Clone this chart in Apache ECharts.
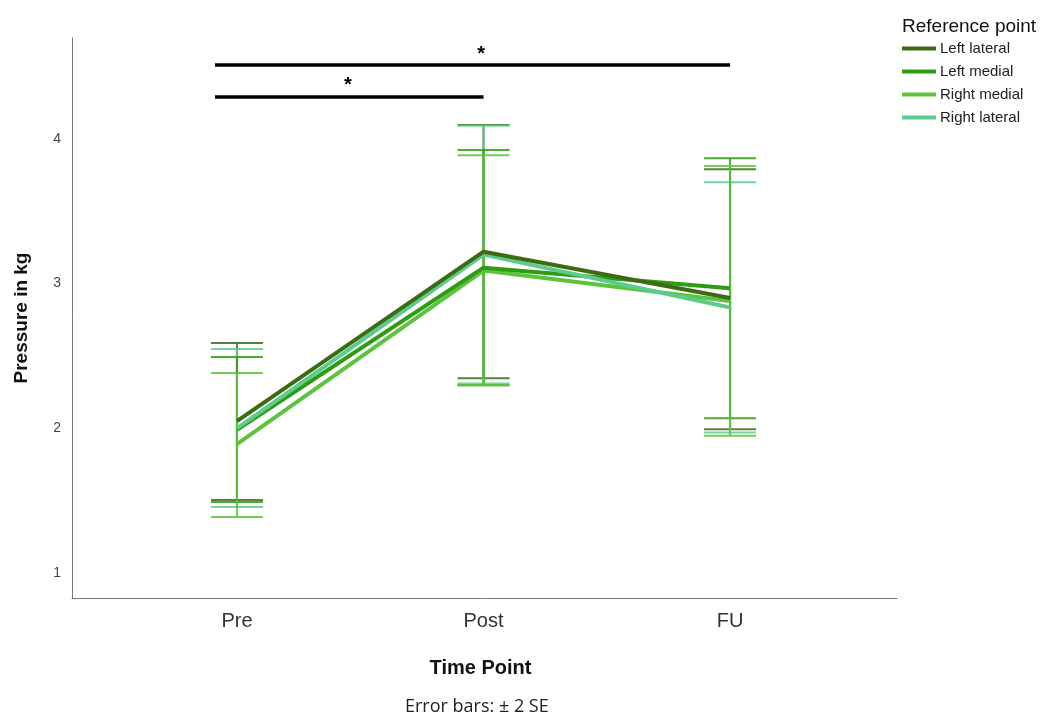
<!DOCTYPE html>
<html>
<head>
<meta charset="utf-8">
<script src="https://cdn.jsdelivr.net/npm/echarts@6/dist/echarts.min.js"></script>
<style>
html,body{margin:0;padding:0;background:#fff;}
#chart{width:1055px;height:720px;}
</style>
</head>
<body>
<div id="chart"></div>
<script>
// ---- data ----
const categories = ['Pre', 'Post', 'FU'];
const seriesNames = ['Left lateral', 'Left medial', 'Right medial', 'Right lateral'];
const seriesColors = ['#3c6b14', '#2f9b12', '#5cc43c', '#5ccb8e'];

const leftLateralMean  = [2.05, 3.22, 2.90];
const leftLateralLow   = [1.504, 2.345, 1.993];
const leftLateralHigh  = [2.590, 4.095, 3.790];

const leftMedialMean   = [1.99, 3.11, 2.967];
const leftMedialLow    = [1.491, 2.297, 2.069];
const leftMedialHigh   = [2.493, 3.923, 3.866];

const rightMedialMean  = [1.89, 3.09, 2.88];
const rightMedialLow   = [1.387, 2.297, 1.949];
const rightMedialHigh  = [2.382, 3.887, 3.813];

const rightLateralMean = [2.00, 3.20, 2.835];
const rightLateralLow  = [1.456, 2.310, 1.970];
const rightLateralHigh = [2.548, 4.090, 3.700];

const yTicks = [1, 2, 3, 4];

// significance brackets: start category, end category, height, star position
const bracketStart = [0.911, 0.911];
const bracketEnd   = [3.0, 2.0];
const bracketY     = [4.51, 4.29];
const bracketStarX = [1.99, 1.45];
const bracketLabel = ['*', '*'];

// ---- build ----
const means = [leftLateralMean, leftMedialMean, rightMedialMean, rightLateralMean];
const lows  = [leftLateralLow, leftMedialLow, rightMedialLow, rightLateralLow];
const highs = [leftLateralHigh, leftMedialHigh, rightMedialHigh, rightLateralHigh];

const series = [];
// error bars
const errOrder = [0, 3, 1, 2];
errOrder.forEach(function (si) {
  series.push({
    type: 'custom',
    name: seriesNames[si] + ' err',
    z: 3,
    silent: true,
    data: categories.map(function (c, i) { return [i + 1, lows[si][i], highs[si][i]]; }),
    renderItem: function (params, api) {
      const x = api.value(0);
      const lo = api.coord([x, api.value(1)]);
      const hi = api.coord([x, api.value(2)]);
      const hw = 26;
      const st = { stroke: seriesColors[si], lineWidth: 2, opacity: 0.85 };
      return {
        type: 'group',
        children: [
          { type: 'line', shape: { x1: lo[0], y1: lo[1], x2: hi[0], y2: hi[1] }, style: st },
          { type: 'line', shape: { x1: lo[0] - hw, y1: lo[1], x2: lo[0] + hw, y2: lo[1] }, style: st },
          { type: 'line', shape: { x1: hi[0] - hw, y1: hi[1], x2: hi[0] + hw, y2: hi[1] }, style: st }
        ]
      };
    }
  });
});
// mean lines
const lineOrder = [2, 1, 3, 0];
lineOrder.forEach(function (si) {
  series.push({
    type: 'line',
    name: seriesNames[si],
    z: 4,
    color: seriesColors[si],
    symbol: 'none',
    lineStyle: { width: 4, color: seriesColors[si] },
    data: categories.map(function (c, i) { return [i + 1, means[si][i]]; })
  });
});
// brackets
series.push({
  type: 'custom',
  name: 'brackets',
  z: 5,
  silent: true,
  data: bracketY.map(function (y, i) { return [bracketStart[i], bracketEnd[i], y, bracketStarX[i]]; }),
  renderItem: function (params, api) {
    const y = api.value(2);
    const a = api.coord([api.value(0), y]);
    const b = api.coord([api.value(1), y]);
    const s = api.coord([api.value(3), y]);
    return {
      type: 'group',
      children: [
        { type: 'line', shape: { x1: a[0], y1: a[1], x2: b[0], y2: b[1] }, style: { stroke: '#000', lineWidth: 3.5 } },
        { type: 'text', x: s[0], y: s[1] - 11, style: { text: bracketLabel[params.dataIndex], fill: '#000', font: 'bold 20px "Liberation Sans"', align: 'center', verticalAlign: 'middle' } }
      ]
    };
  }
});

const chart = echarts.init(document.getElementById('chart'), null, { renderer: 'canvas' });
chart.setOption({
  backgroundColor: '#fff',
  animation: false,
  textStyle: { fontFamily: 'Liberation Sans' },
  title: {
    text: 'Reference point',
    left: 897, top: 12,
    textStyle: { fontSize: 19, fontWeight: 'normal', color: '#111', fontFamily: 'Liberation Sans' }
  },
  legend: {
    orient: 'vertical',
    left: 897, top: 36,
    itemWidth: 34, itemHeight: 4,
    itemGap: 8,
    icon: 'rect',
    data: seriesNames,
    textStyle: { fontSize: 15, color: '#222', padding: [0, 0, 0, -1] }
  },
  grid: { left: 72, right: 158, top: 38, bottom: 122, containLabel: false },
  xAxis: {
    type: 'value',
    min: 0.331, max: 3.677,
    name: 'Time Point',
    nameLocation: 'middle',
    nameGap: 60,
    nameTextStyle: { fontSize: 20, fontWeight: 'bold', color: '#111', padding: [0, 8, 0, 0] },
    axisLine: { show: true, lineStyle: { color: '#777', width: 1 } },
    axisTick: { show: false },
    splitLine: { show: false },
    axisLabel: {
      customValues: [1, 2, 3],
      formatter: function (v) { return categories[Math.round(v) - 1] || ''; },
      fontSize: 20, color: '#333', margin: 13
    }
  },
  yAxis: {
    type: 'value',
    min: 0.827, max: 4.697,
    name: 'Pressure in kg',
    nameLocation: 'middle',
    nameGap: 41,
    nameRotate: 90,
    nameTextStyle: { fontSize: 19, fontWeight: 'bold', color: '#111' },
    axisLine: { show: true, lineStyle: { color: '#777', width: 1 } },
    axisTick: { show: false },
    splitLine: { show: false },
    axisLabel: {
      customValues: yTicks,
      fontSize: 14, color: '#444', margin: 11
    }
  },
  graphic: [{
    type: 'text', left: 405, top: 698,
    style: { text: 'Error bars: \u00b1 2 SE', font: '18px "Open Sans"', fill: '#222' }
  }],
  series: series
});
</script>
</body>
</html>
